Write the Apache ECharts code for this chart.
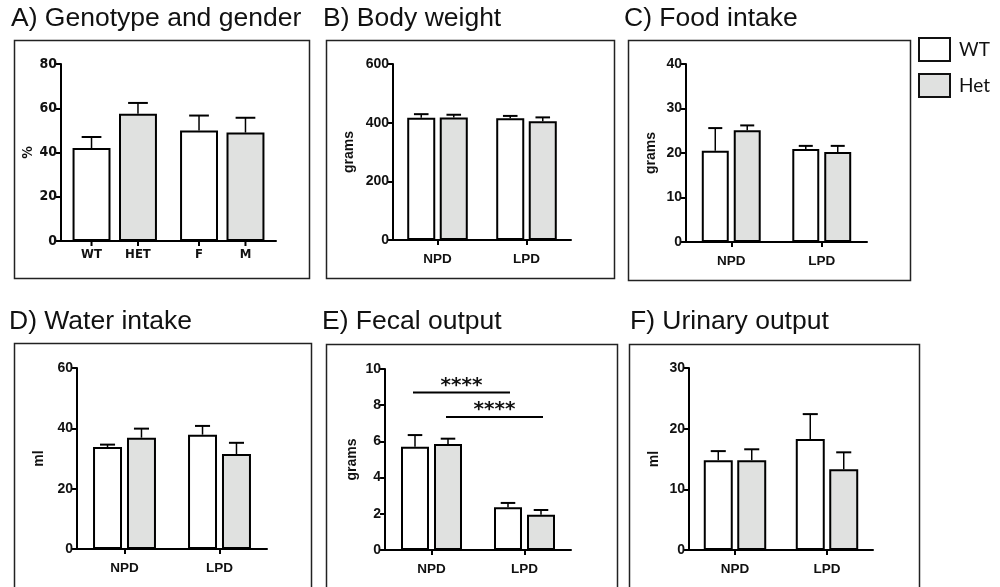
<!DOCTYPE html>
<html><head><meta charset="utf-8">
<script src="https://cdn.jsdelivr.net/npm/echarts@6/dist/echarts.min.js"></script>
<style>html,body{margin:0;padding:0;background:#fff}#c{width:1000px;height:587px}</style>
</head><body><div id="c"></div>
<script>
// ---------------- data ----------------
const panelTitles = ['A) Genotype and gender', 'B) Body weight', 'C) Food intake', 'D) Water intake', 'E) Fecal output', 'F) Urinary output'];
const seriesNames = ['WT', 'Het'];
const groupCatsA = ['Genotype', 'Gender'];
const barLabelsAWt = ['WT', 'F'];
const barLabelsAHet = ['HET', 'M'];
const dietCats = ['NPD', 'LPD'];
const yNames = ['%', 'grams', 'grams', 'ml', 'grams', 'ml'];
const yMax = [80, 600, 40, 60, 10, 30];
const yInterval = [20, 200, 10, 20, 2, 10];

const aWt = [42, 50],      aWtErr = [5, 6.7],    aHet = [57.5, 49],   aHetErr = [4.9, 6.7];
const bWt = [417, 415],    bWtErr = [12, 8],     bHet = [418, 405],   bHetErr = [9, 13];
const cWt = [20.5, 20.9],  cWtErr = [5.1, 0.7],  cHet = [25.1, 20.2], cHetErr = [1.1, 1.4];
const dWt = [33.8, 37.9],  dWtErr = [0.8, 2.9],  dHet = [36.9, 31.5], dHetErr = [3.0, 3.7];
const eWt = [5.71, 2.36],  eWtErr = [0.64, 0.24], eHet = [5.86, 1.95], eHetErr = [0.29, 0.26];
const fWt = [14.8, 18.3],  fWtErr = [1.5, 4.1],  fHet = [14.8, 13.3], fHetErr = [1.8, 2.8];

const sigLevels = [8.7, 7.35];   // panel E: WT NPD vs LPD, Het NPD vs LPD
const sigLabels = ['****', '****'];

// ---------------- layout / style ----------------
const panels = [
  {cats: groupCatsA, wt: aWt, wtErr: aWtErr, het: aHet, hetErr: aHetErr},
  {cats: dietCats, wt: bWt, wtErr: bWtErr, het: bHet, hetErr: bHetErr},
  {cats: dietCats, wt: cWt, wtErr: cWtErr, het: cHet, hetErr: cHetErr},
  {cats: dietCats, wt: dWt, wtErr: dWtErr, het: dHet, hetErr: dHetErr},
  {cats: dietCats, wt: eWt, wtErr: eWtErr, het: eHet, hetErr: eHetErr},
  {cats: dietCats, wt: fWt, wtErr: fWtErr, het: fHet, hetErr: fHetErr}
];
const layout = [
  {left: 61,  top: 64,  width: 215, height: 177, box: [12, 38, 295, 238],  title: [11, 5],    gap: 17, bw: 0.353, bg: 0.224},
  {left: 393, top: 64,  width: 178, height: 176, box: [324, 38, 288, 238], title: [323, 5],   gap: 37, bw: 0.315, bg: 0.16},
  {left: 686, top: 64,  width: 181, height: 178, box: [626, 38, 282, 240], title: [624, 5],   gap: 28, bw: 0.298, bg: 0.185},
  {left: 77,  top: 368, width: 190, height: 181, box: [12, 341, 297, 270], title: [9, 308],   gap: 31, bw: 0.305, bg: 0.172},
  {left: 385, top: 369, width: 186, height: 181, box: [324, 342, 291, 270], title: [322, 308], gap: 26, bw: 0.301, bg: 0.179},
  {left: 689, top: 368, width: 184, height: 182, box: [627, 342, 290, 270], title: [630, 308], gap: 28, bw: 0.315, bg: 0.155}
];
const HEAD_FONT = '"Liberation Sans", Arial, Helvetica, sans-serif';
const NARROW_FONT = '"Liberation Sans Narrow", "Arial Narrow", "DejaVu Sans Condensed", sans-serif';
const INK = '#111';
const GREY = '#e0e1e0';

const chart = echarts.init(document.getElementById('c'), null, {renderer: 'canvas'});

function errRender(lay, withTicks) {
  return function (params, api) {
    const cat = api.value(0), v = api.value(1), e = api.value(2), s = api.value(3);
    const band = api.size([1, 0])[0];
    const bw = band * lay.bw, gap = bw * lay.bg;
    const p0 = api.coord([cat, v]);
    const x = p0[0] + (s === 0 ? -1 : 1) * (bw + gap) / 2;
    const y0 = p0[1];
    const y1 = api.coord([cat, v + e])[1];
    const cap = bw * 0.26;
    const children = [
      {type: 'line', shape: {x1: x, y1: y0, x2: x, y2: y1}, style: {stroke: '#000', lineWidth: 1.5}},
      {type: 'line', shape: {x1: x - cap, y1: y1, x2: x + cap, y2: y1}, style: {stroke: '#000', lineWidth: 2}}
    ];
    if (withTicks) {
      const yb = api.coord([cat, 0])[1];
      children.push({type: 'line', shape: {x1: x, y1: yb, x2: x, y2: yb + 5}, style: {stroke: '#000', lineWidth: 2}});
    }
    return {type: 'group', children};
  };
}

function sigRender(lay) {
  return function (params, api) {
    const lvl = api.value(0), s = api.value(1);
    const band = api.size([1, 0])[0];
    const bw = band * lay.bw, gap = bw * lay.bg;
    const off = (s === 0 ? -1 : 1) * (bw + gap) / 2;
    const pA = api.coord([0, lvl]);
    const pB = api.coord([1, lvl]);
    const xa = pA[0] + off - 2, xb = pB[0] + off + 2, y = pA[1];
    return {type: 'group', children: [
      {type: 'line', shape: {x1: xa, y1: y, x2: xb, y2: y}, style: {stroke: '#000', lineWidth: 2}},
      {type: 'text', style: {text: sigLabels[params.dataIndex], x: (xa + xb) / 2, y: y + 3, align: 'center', verticalAlign: 'bottom',
        font: 'bold 20px "DejaVu Sans", sans-serif', fill: INK}}
    ]};
  };
}

const grids = [], xAxes = [], yAxes = [], series = [], titles = [], graphics = [];
panels.forEach((p, i) => {
  const lay = layout[i];
  const isA = i === 0;
  grids.push({left: lay.left, top: lay.top, width: lay.width, height: lay.height, containLabel: false});
  xAxes.push({
    type: 'category', gridIndex: i, data: p.cats,
    axisLine: {lineStyle: {color: '#000', width: 2}},
    axisTick: {show: !isA, alignWithLabel: true, interval: 0, length: 5, lineStyle: {color: '#000', width: 2}},
    axisLabel: {show: !isA, interval: 0, margin: 12, color: INK, fontWeight: 'bold', fontSize: 13.5, fontFamily: HEAD_FONT},
    splitLine: {show: false}
  });
  yAxes.push({
    type: 'value', gridIndex: i, min: 0, max: yMax[i], interval: yInterval[i],
    name: yNames[i], nameLocation: 'middle', nameRotate: 90, nameGap: lay.gap,
    nameTextStyle: {color: INK, fontWeight: 'bold', fontSize: 14, fontFamily: isA ? NARROW_FONT : HEAD_FONT},
    axisLine: {show: true, lineStyle: {color: '#000', width: 2}},
    axisTick: {show: true, length: 5, lineStyle: {color: '#000', width: 2}},
    axisLabel: {margin: 4, color: INK, fontWeight: 'bold', fontSize: 14, fontFamily: isA ? NARROW_FONT : HEAD_FONT},
    splitLine: {show: false}
  });
  const mkBar = (name, vals, fill, labels) => ({
    type: 'bar', name, xAxisIndex: i, yAxisIndex: i, data: vals,
    barWidth: (lay.bw * 100) + '%', barGap: (lay.bg * 100) + '%',
    itemStyle: {color: fill, borderColor: '#000', borderWidth: 2},
    label: labels ? {show: true, position: 'bottom', distance: 7, formatter: (d) => labels[d.dataIndex],
      color: INK, fontWeight: 'bold', fontSize: 13, fontFamily: NARROW_FONT} : {show: false},
    emphasis: {disabled: true}, z: 2
  });
  series.push(mkBar(seriesNames[0], p.wt, '#ffffff', isA ? barLabelsAWt : null));
  series.push(mkBar(seriesNames[1], p.het, GREY, isA ? barLabelsAHet : null));
  const errData = [];
  p.wt.forEach((v, k) => errData.push([k, v, p.wtErr[k], 0]));
  p.het.forEach((v, k) => errData.push([k, v, p.hetErr[k], 1]));
  series.push({type: 'custom', xAxisIndex: i, yAxisIndex: i, data: errData, encode: {x: 0, y: 1},
    renderItem: errRender(lay, isA), z: 3, silent: true});
  if (i === 4) {
    series.push({type: 'custom', xAxisIndex: i, yAxisIndex: i, data: sigLevels.map((l, k) => [l, k]), encode: {y: 0},
      renderItem: sigRender(lay), z: 3, silent: true});
  }
  titles.push({text: panelTitles[i], left: lay.title[0], top: lay.title[1], padding: 0,
    textStyle: {fontFamily: HEAD_FONT, fontSize: 26.5, fontWeight: 'normal', color: INK}});
  graphics.push({type: 'rect', left: lay.box[0], top: lay.box[1], shape: {x: 0, y: 0, width: lay.box[2], height: lay.box[3]},
    style: {fill: 'none', stroke: '#222', lineWidth: 1.5}, silent: true, z: -1});
});

chart.setOption({
  animation: false,
  backgroundColor: '#fff',
  title: titles,
  grid: grids,
  xAxis: xAxes,
  yAxis: yAxes,
  legend: {
    data: seriesNames, orient: 'vertical', left: 918, top: 37, itemWidth: 31, itemHeight: 23, itemGap: 11,
    icon: 'rect', selectedMode: false, padding: 0,
    itemStyle: {borderColor: '#111', borderWidth: 2},
    textStyle: {fontFamily: 'Lato, "Open Sans", sans-serif', fontSize: 19, color: INK, padding: [0, 0, 0, 4]}
  },
  graphic: graphics,
  series
});
</script></body></html>
